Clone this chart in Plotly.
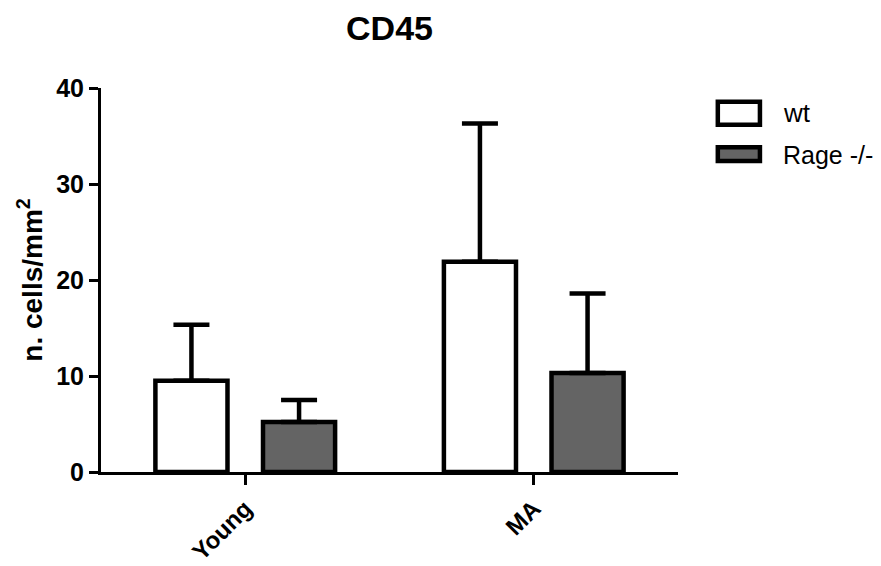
import plotly.graph_objects as go

categories = ["Young", "MA"]
wt_values = [9.5, 21.9]
wt_err = [5.85, 14.4]
rage_values = [5.2, 10.3]
rage_err = [2.3, 8.3]
series_names = ["wt", "Rage -/-"]
y_ticks = [0, 10, 20, 30, 40]

FONT = "Liberation Sans, Arial, sans-serif"
GRAY = "#646464"

fig = go.Figure()
fig.add_trace(go.Bar(
    x=categories, y=wt_values, name=series_names[0],
    marker=dict(color="white", line=dict(color="black", width=4.5)),
    error_y=dict(type="data", array=wt_err, arrayminus=[0, 0], symmetric=False,
                 color="black", thickness=4.5, width=18),
    showlegend=False,
))
fig.add_trace(go.Bar(
    x=categories, y=rage_values, name=series_names[1],
    marker=dict(color=GRAY, line=dict(color="black", width=4.5)),
    error_y=dict(type="data", array=rage_err, arrayminus=[0, 0], symmetric=False,
                 color="black", thickness=4.5, width=18),
    showlegend=False,
))

# legend drawn as boxes + text
fig.add_shape(type="rect", xref="paper", yref="paper",
              x0=1.069, x1=1.142, y0=0.904, y1=0.964,
              fillcolor="white", line=dict(color="black", width=4.5))
fig.add_shape(type="rect", xref="paper", yref="paper",
              x0=1.069, x1=1.142, y0=0.810, y1=0.846,
              fillcolor=GRAY, line=dict(color="black", width=4.5))
fig.add_annotation(xref="paper", yref="paper", x=1.178, y=0.935,
                   xanchor="left", yanchor="middle", showarrow=False,
                   text=series_names[0], font=dict(family=FONT, size=26, color="black"))
fig.add_annotation(xref="paper", yref="paper", x=1.178, y=0.826,
                   xanchor="left", yanchor="middle", showarrow=False,
                   text=series_names[1], font=dict(family=FONT, size=25, color="black"))

fig.update_layout(
    width=881, height=566,
    margin=dict(l=101, r=203, t=88, b=94, autoexpand=False),
    paper_bgcolor="white", plot_bgcolor="white",
    barmode="group", bargap=0.254, bargroupgap=0.33,
    title=dict(text="<b>CD45</b>", x=0.5, xref="paper", y=1 - 28 / 566,
               yanchor="middle", font=dict(family=FONT, size=34, color="black")),
    font=dict(family=FONT, color="black"),
    xaxis=dict(
        range=[-0.5, 1.5], showline=True, linecolor="black", linewidth=3,
        ticks="outside", ticklen=10, tickwidth=3, tickcolor="black",
        tickangle=-45, showgrid=False, zeroline=False, automargin=False,
        tickfont=dict(family=FONT, size=24, color="black", weight="bold"),
    ),
    yaxis=dict(
        range=[0, 40], tickvals=y_ticks, showline=True, linecolor="black", linewidth=3,
        ticks="outside", ticklen=9, tickwidth=3, tickcolor="black",
        showgrid=False, zeroline=False, automargin=False,
        tickfont=dict(family=FONT, size=25, color="black", weight="bold"),
        title=dict(text="<b>n. cells/mm<sup>2</sup></b>", standoff=6,
                   font=dict(family=FONT, size=28, color="black")),
    ),
)

fig.write_html("out.html", config={"displayModeBar": False},
               post_script="document.body.style.margin='0';document.body.style.overflow='hidden';")
